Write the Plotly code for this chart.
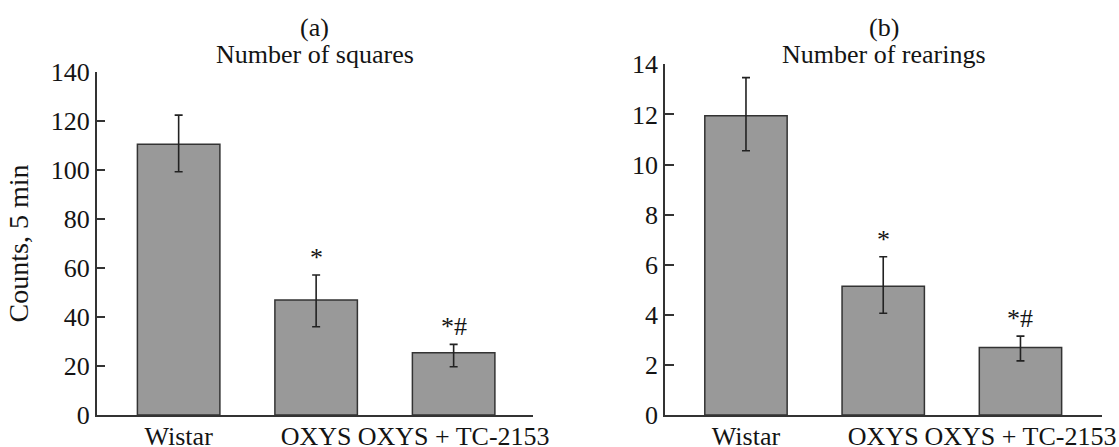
import plotly.graph_objects as go

categories = ["Wistar", "OXYS", "OXYS + TC-2153"]

squares_mean = [110.4, 46.9, 25.4]
squares_err_plus = [11.9, 10.2, 3.4]
squares_err_minus = [11.2, 10.9, 5.7]
squares_marks = ["", "*", "*#"]

rearings_mean = [11.95, 5.14, 2.69]
rearings_err_plus = [1.52, 1.18, 0.46]
rearings_err_minus = [1.40, 1.08, 0.53]
rearings_marks = ["", "*", "*#"]

panel_letters = ["(a)", "(b)"]
panel_titles = ["Number of squares", "Number of rearings"]
y_title = "Counts, 5 min"

a_ticks = [0, 20, 40, 60, 80, 100, 120, 140]
b_ticks = [0, 2, 4, 6, 8, 10, 12, 14]

FONT = "Liberation Serif"
TXT = "#141414"
FS = 26
W, H = 1119, 447

fig = go.Figure()

def add_panel(means, ep, em, xa, ya):
    fig.add_trace(go.Bar(
        x=categories, y=means, xaxis=xa, yaxis=ya, width=0.6,
        marker=dict(color="#999999", line=dict(color="#333333", width=1.5)),
        error_y=dict(type="data", symmetric=False, array=ep, arrayminus=em,
                     color="#222222", thickness=1.6, width=4),
        showlegend=False,
    ))

add_panel(squares_mean, squares_err_plus, squares_err_minus, "x", "y")
add_panel(rearings_mean, rearings_err_plus, rearings_err_minus, "x2", "y2")

ax_common = dict(showgrid=False, zeroline=False, showline=True, linecolor="#333333",
                 linewidth=1.5, tickfont=dict(family=FONT, size=FS, color=TXT),
                 automargin=False, fixedrange=True)

fig.update_layout(
    width=W, height=H, margin=dict(l=0, r=0, t=0, b=0),
    paper_bgcolor="white", plot_bgcolor="white",
    font=dict(family=FONT, size=FS, color=TXT),
    xaxis=dict(domain=[96.7 / W, 532.7 / W], range=[-0.596, 2.575], ticks="",
               ticklabelstandoff=-3, anchor="y", **ax_common),
    yaxis=dict(domain=[32 / H, 375.3 / H], range=[0, 140], tickvals=a_ticks,
               ticks="inside", ticklen=9, tickcolor="#333333", tickwidth=1.5,
               anchor="x", **ax_common),
    xaxis2=dict(domain=[665 / W, 1102 / W], range=[-0.59, 2.594], ticks="",
                ticklabelstandoff=-3, anchor="y2", **ax_common),
    yaxis2=dict(domain=[32 / H, 382.7 / H], range=[0, 14], tickvals=b_ticks,
                ticks="inside", ticklen=9, tickcolor="#333333", tickwidth=1.5,
                anchor="x2", **ax_common),
)

ann = []
# significance marks above error bars
for marks, means, ep, xr, yr in [(squares_marks, squares_mean, squares_err_plus, "x", "y"),
                                 (rearings_marks, rearings_mean, rearings_err_plus, "x2", "y2")]:
    for c, m, mu, e in zip(categories, marks, means, ep):
        if m:
            ann.append(dict(x=c, y=mu + e, xref=xr, yref=yr, text=m, showarrow=False,
                            yanchor="bottom", yshift=1, font=dict(family=FONT, size=FS, color=TXT)))

centers = [(96.7 + 532.7) / 2 / W, (665 + 1102) / 2 / W]
for cx, letter, title in zip(centers, panel_letters, panel_titles):
    ann.append(dict(x=cx, y=1 - 27 / H, xref="paper", yref="paper", text=letter,
                    showarrow=False, xanchor="center", yanchor="middle",
                    font=dict(family=FONT, size=FS, color=TXT)))
    ann.append(dict(x=cx, y=1 - 54 / H, xref="paper", yref="paper", text=title,
                    showarrow=False, xanchor="center", yanchor="middle",
                    font=dict(family=FONT, size=FS, color=TXT)))

ann.append(dict(x=18 / W, y=1 - 243.4 / H, xref="paper", yref="paper", text=y_title,
                showarrow=False, textangle=-90, xanchor="center", yanchor="middle",
                font=dict(family=FONT, size=28, color=TXT)))

fig.update_layout(annotations=ann)
fig.write_html("out.html")
